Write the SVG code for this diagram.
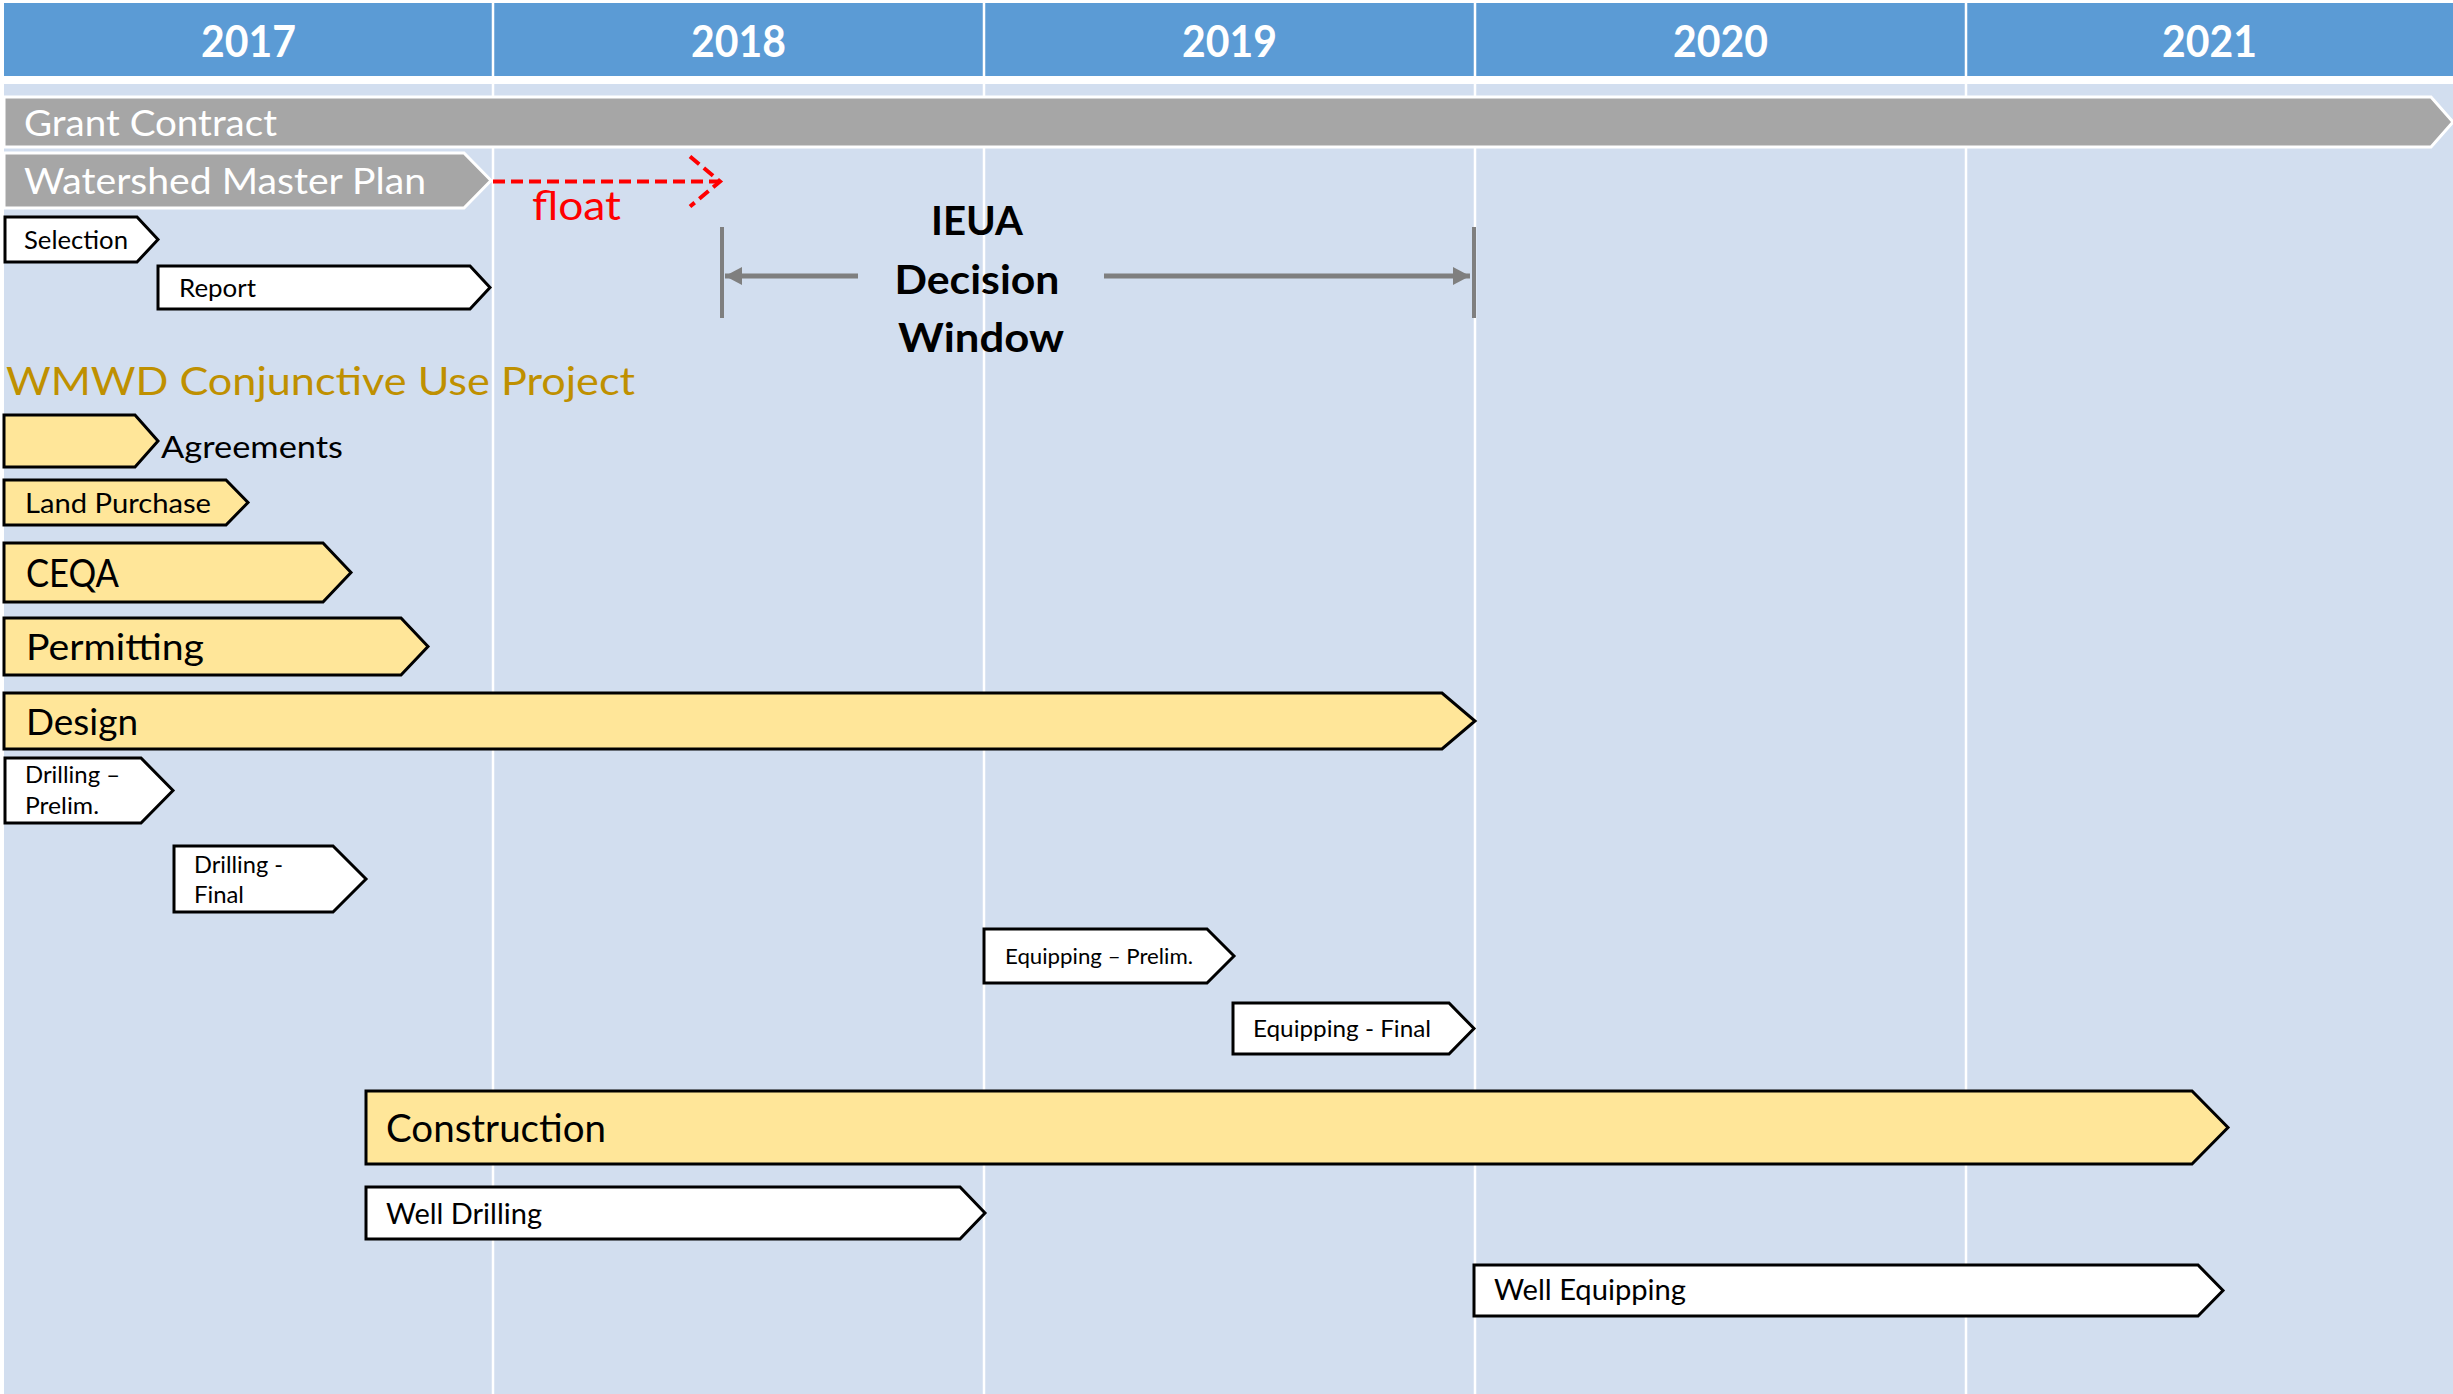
<svg xmlns="http://www.w3.org/2000/svg" width="2453" height="1394" viewBox="0 0 2453 1394">
<style>
  text { font-family: Lato, "Open Sans", "Liberation Sans", sans-serif; }
  .yr { font-weight: bold; fill: #FFFFFF; font-size: 43px; text-anchor: middle; }
  .gray { fill: #A6A6A6; stroke: #FFFFFF; stroke-width: 3; }
  .yel { fill: #FFE699; stroke: #000000; stroke-width: 3; stroke-linejoin: miter; }
  .wht { fill: #FFFFFF; stroke: #000000; stroke-width: 3; stroke-linejoin: miter; }
  .gtxt { fill: #FFFFFF; font-size: 36px; }
  .btxt { fill: #000000; }
  .sep { stroke: #FFFFFF; stroke-width: 2.5; }
  .win { font-weight: bold; font-size: 40px; fill: #000000; text-anchor: middle; }
</style>
<defs>
  <marker id="grayHead" markerUnits="userSpaceOnUse" markerWidth="20" markerHeight="20" refX="17" refY="9" orient="auto">
    <path d="M0,0 L17,9 L0,18 Z" fill="#7F7F7F"/>
  </marker>
  <marker id="floatHead" markerUnits="userSpaceOnUse" markerWidth="40" markerHeight="60" refX="32" refY="27" orient="auto">
    <path d="M2,2 L32,27 L2,52" fill="none" stroke="#FF0000" stroke-width="4" stroke-dasharray="12,6"/>
  </marker>
</defs>

<!-- background -->
<rect x="0" y="0" width="2453" height="1394" fill="#FFFFFF"/>
<rect x="4" y="3" width="2449" height="73" fill="#5B9BD5"/>
<rect x="4" y="84" width="2449" height="1310" fill="#D2DEEF"/>
<g id="gridlines">
  <line class="sep" x1="493" y1="3" x2="493" y2="1394"/>
  <line class="sep" x1="984" y1="3" x2="984" y2="1394"/>
  <line class="sep" x1="1475" y1="3" x2="1475" y2="1394"/>
  <line class="sep" x1="1966" y1="3" x2="1966" y2="1394"/>
</g>
<g id="years">
  <text class="yr" x="248.5" y="57" textLength="95" lengthAdjust="spacingAndGlyphs">2017</text>
  <text class="yr" x="738.5" y="57" textLength="95" lengthAdjust="spacingAndGlyphs">2018</text>
  <text class="yr" x="1229.5" y="57" textLength="95" lengthAdjust="spacingAndGlyphs">2019</text>
  <text class="yr" x="1720.5" y="57" textLength="95" lengthAdjust="spacingAndGlyphs">2020</text>
  <text class="yr" x="2209.5" y="57" textLength="95" lengthAdjust="spacingAndGlyphs">2021</text>
</g>

<g id="grant-contract">
  <path class="gray" d="M4,97 H2431 L2453,122 L2431,147 H4 Z"/>
  <text class="gtxt" x="24" y="136" textLength="253" lengthAdjust="spacingAndGlyphs">Grant Contract</text>
</g>
<g id="watershed-master-plan">
  <path class="gray" d="M4,153 H464 L491,180.5 L464,208 H4 Z"/>
  <text class="gtxt" x="24" y="194" textLength="402" lengthAdjust="spacingAndGlyphs">Watershed Master Plan</text>
</g>
<g id="float-label">
  <text x="532" y="220" font-size="40" fill="#FF0000" textLength="89" lengthAdjust="spacingAndGlyphs">float</text>
</g>
<g id="selection">
  <path class="wht" d="M5,217 H137 L158,239.5 L137,262 H5 Z"/>
  <text class="btxt" x="24" y="249" font-size="25" textLength="104" lengthAdjust="spacingAndGlyphs">Selection</text>
</g>
<g id="report">
  <path class="wht" d="M158,266 H470 L490,287.5 L470,309 H158 Z"/>
  <text class="btxt" x="179" y="297" font-size="25" textLength="77" lengthAdjust="spacingAndGlyphs">Report</text>
</g>
<g id="ieua-decision-window">
  <text class="win" x="977" y="235" textLength="92" lengthAdjust="spacingAndGlyphs">IEUA</text>
  <text class="win" x="977" y="294" textLength="165" lengthAdjust="spacingAndGlyphs">Decision</text>
  <text class="win" x="981" y="352" textLength="166" lengthAdjust="spacingAndGlyphs">Window</text>
</g>
<g id="wmwd-title">
  <text x="6" y="395" font-size="39" fill="#BF9000" textLength="629" lengthAdjust="spacingAndGlyphs">WMWD Conjunctive Use Project</text>
</g>
<g id="agreements">
  <path class="yel" d="M4,415 H135 L158,441 L135,467 H4 Z"/>
  <text class="btxt" x="161" y="458" font-size="30" textLength="182" lengthAdjust="spacingAndGlyphs">Agreements</text>
</g>
<g id="land-purchase">
  <path class="yel" d="M4,480 H226 L248,502.5 L226,525 H4 Z"/>
  <text class="btxt" x="25" y="513" font-size="27" textLength="186" lengthAdjust="spacingAndGlyphs">Land Purchase</text>
</g>
<g id="ceqa">
  <path class="yel" d="M4,543 H323 L351,572.5 L323,602 H4 Z"/>
  <text class="btxt" x="26" y="587" font-size="38" textLength="93" lengthAdjust="spacingAndGlyphs">CEQA</text>
</g>
<g id="permitting">
  <path class="yel" d="M4,618 H401 L428,646.5 L401,675 H4 Z"/>
  <text class="btxt" x="26" y="660" font-size="36" textLength="178" lengthAdjust="spacingAndGlyphs">Permitting</text>
</g>
<g id="design">
  <path class="yel" d="M4,693 H1442 L1475,721 L1442,749 H4 Z"/>
  <text class="btxt" x="26" y="735" font-size="37" textLength="112" lengthAdjust="spacingAndGlyphs">Design</text>
</g>
<g id="drilling-prelim">
  <path class="wht" d="M5,758 H141 L173,790.5 L141,823 H5 Z"/>
  <text class="btxt" x="25" y="783" font-size="23" textLength="95" lengthAdjust="spacingAndGlyphs">Drilling –</text>
  <text class="btxt" x="25" y="814" font-size="23" textLength="74" lengthAdjust="spacingAndGlyphs">Prelim.</text>
</g>
<g id="drilling-final">
  <path class="wht" d="M174,846 H333 L366,879 L333,912 H174 Z"/>
  <text class="btxt" x="194" y="873" font-size="23" textLength="89" lengthAdjust="spacingAndGlyphs">Drilling -</text>
  <text class="btxt" x="194" y="903" font-size="23" textLength="50" lengthAdjust="spacingAndGlyphs">Final</text>
</g>
<g id="equipping-prelim">
  <path class="wht" d="M984,929 H1207 L1234,956 L1207,983 H984 Z"/>
  <text class="btxt" x="1005" y="964" font-size="22" textLength="188" lengthAdjust="spacingAndGlyphs">Equipping – Prelim.</text>
</g>
<g id="equipping-final">
  <path class="wht" d="M1233,1003 H1449 L1474,1028.5 L1449,1054 H1233 Z"/>
  <text class="btxt" x="1253" y="1037" font-size="23" textLength="178" lengthAdjust="spacingAndGlyphs">Equipping - Final</text>
</g>
<g id="construction">
  <path class="yel" d="M366,1091 H2192 L2228,1127.5 L2192,1164 H366 Z"/>
  <text class="btxt" x="386" y="1142" font-size="38" textLength="220" lengthAdjust="spacingAndGlyphs">Construction</text>
</g>
<g id="well-drilling">
  <path class="wht" d="M366,1187 H960 L985,1213 L960,1239 H366 Z"/>
  <text class="btxt" x="386" y="1224" font-size="28" textLength="156" lengthAdjust="spacingAndGlyphs">Well Drilling</text>
</g>
<g id="well-equipping">
  <path class="wht" d="M1474,1265 H2198 L2223,1290.5 L2198,1316 H1474 Z"/>
  <text class="btxt" x="1494" y="1300" font-size="28" textLength="192" lengthAdjust="spacingAndGlyphs">Well Equipping</text>
</g>

<g id="connectors">
  <line x1="493" y1="181.5" x2="720" y2="181.5" stroke="#FF0000" stroke-width="4" stroke-dasharray="12,6" marker-end="url(#floatHead)"/>
  <line x1="722" y1="227" x2="722" y2="318" stroke="#7F7F7F" stroke-width="4"/>
  <line x1="1474" y1="227" x2="1474" y2="318" stroke="#7F7F7F" stroke-width="4"/>
  <line x1="858" y1="276" x2="725" y2="276" stroke="#7F7F7F" stroke-width="5" marker-end="url(#grayHead)"/>
  <line x1="1104" y1="276" x2="1470" y2="276" stroke="#7F7F7F" stroke-width="5" marker-end="url(#grayHead)"/>
</g>
</svg>
